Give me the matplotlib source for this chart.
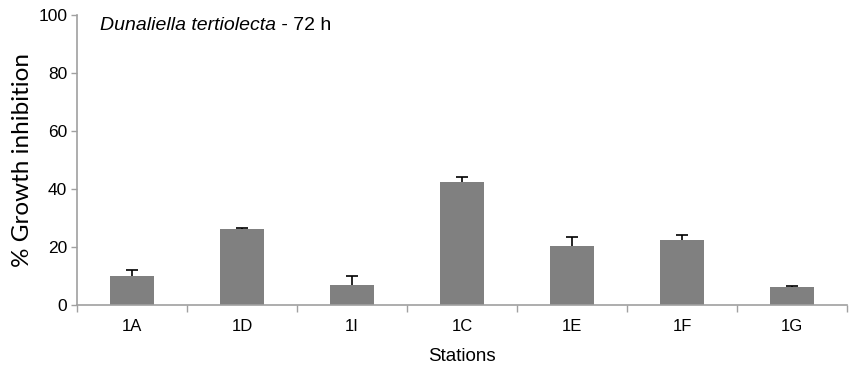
import numpy as np
import matplotlib.pyplot as plt
from matplotlib import font_manager

stations = ['1A', '1D', '1I', '1C', '1E', '1F', '1G']
inhibition = [10.0, 26.2, 7.0, 42.3, 20.5, 22.3, 6.1]
err = [2.1, 0.2, 3.0, 1.8, 3.0, 1.7, 0.4]

names = {f.name for f in font_manager.fontManager.ttflist}
tick_font = 'Liberation Sans Narrow' if 'Liberation Sans Narrow' in names else 'Liberation Sans'

plt.rcParams['font.family'] = 'Liberation Sans'

fig = plt.figure(figsize=(8.49, 3.68), dpi=100)
ax = fig.add_axes([77 / 849, 63 / 368, 770 / 849, 290 / 368])

x = np.arange(len(stations))
# error bars sit behind the bars so only the upper half shows
ax.errorbar(x, inhibition, yerr=err, fmt='none',
            ecolor='black', elinewidth=1.2, capsize=4, capthick=1.2, zorder=1)
ax.bar(x, inhibition, width=0.4, color='#808080', zorder=2)

ax.set_xlim(-0.5, len(stations) - 0.5)
ax.set_ylim(0, 100)
ax.set_yticks(range(0, 101, 20))
ax.set_xticks(x)
ax.set_xticklabels(stations, fontsize=12)
ax.set_xticks(np.arange(-0.5, len(stations), 1), minor=True)
ax.tick_params(axis='x', which='major', length=0, pad=10)
ax.tick_params(axis='x', which='minor', length=5, color='#a0a0a0', width=1)
ax.tick_params(axis='y', length=4, color='#a0a0a0', width=1, labelsize=12.5, pad=3)
for lab in ax.get_yticklabels():
    lab.set_family(tick_font)

for s in ['top', 'right']:
    ax.spines[s].set_visible(False)
for s in ['left', 'bottom']:
    ax.spines[s].set_color('#a0a0a0')
    ax.spines[s].set_linewidth(1.2)

ax.set_xlabel('Stations', fontsize=13.5, labelpad=10)
ax.set_ylabel('% Growth inhibition', fontsize=17.5, family='Lato', labelpad=4)

t1 = ax.text(0.03, 0.965, 'Dunaliella tertiolecta', transform=ax.transAxes,
             fontsize=14, style='italic', va='center', ha='left')
fig.canvas.draw()
bb = t1.get_window_extent().transformed(ax.transAxes.inverted())
ax.text(bb.x1, 0.965, ' - 72 h', transform=ax.transAxes,
        fontsize=14, va='center', ha='left')

fig.savefig('out.png', dpi=100)
